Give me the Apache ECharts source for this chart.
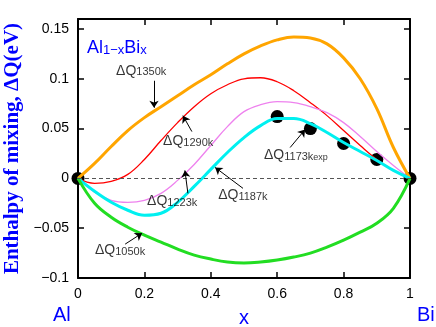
<!DOCTYPE html>
<html><head><meta charset="utf-8">
<script src="https://cdn.jsdelivr.net/npm/echarts@6/dist/echarts.min.js"></script>
<style>html,body{margin:0;padding:0;background:#fff}#c{width:436px;height:327px}</style>
</head><body><div id="c"></div>
<script>
const xTicks = [0, 0.2, 0.4, 0.6, 0.8, 1];
const yTicks = [-0.1, -0.05, 0, 0.05, 0.1, 0.15];

const q1350 = [[0,0],[0.05,0.015],[0.1,0.032],[0.15,0.048],[0.2,0.061],[0.25,0.072],[0.3,0.083],[0.35,0.094],[0.4,0.104],[0.45,0.115],[0.5,0.125],[0.55,0.133],[0.6,0.139],[0.65,0.142],[0.7,0.141],[0.75,0.135],[0.8,0.121],[0.85,0.100],[0.9,0.070],[0.95,0.031],[1,0]];
const q1290 = [[0,0],[0.05,-0.005],[0.1,-0.003],[0.15,0.004],[0.2,0.019],[0.25,0.038],[0.3,0.056],[0.35,0.072],[0.4,0.085],[0.45,0.094],[0.5,0.100],[0.55,0.101],[0.6,0.097],[0.65,0.088],[0.7,0.076],[0.75,0.063],[0.8,0.048],[0.85,0.033],[0.9,0.019],[0.95,0.008],[1,0]];
const q1223 = [[0,0],[0.05,-0.014],[0.1,-0.022],[0.15,-0.024],[0.2,-0.022],[0.25,-0.015],[0.3,-0.002],[0.35,0.014],[0.4,0.033],[0.45,0.052],[0.5,0.067],[0.55,0.074],[0.6,0.077],[0.65,0.076],[0.7,0.072],[0.75,0.066],[0.8,0.056],[0.85,0.042],[0.9,0.027],[0.95,0.013],[1,0]];
const q1187 = [[0,0],[0.05,-0.013],[0.1,-0.024],[0.15,-0.032],[0.2,-0.037],[0.25,-0.035],[0.3,-0.024],[0.35,-0.008],[0.4,0.009],[0.45,0.026],[0.5,0.041],[0.55,0.053],[0.6,0.060],[0.65,0.060],[0.7,0.055],[0.75,0.046],[0.8,0.036],[0.85,0.027],[0.9,0.018],[0.95,0.008],[1,0]];
const q1050 = [[0,0],[0.05,-0.025],[0.1,-0.039],[0.15,-0.049],[0.2,-0.057],[0.25,-0.064],[0.3,-0.071],[0.35,-0.077],[0.4,-0.081],[0.45,-0.084],[0.5,-0.085],[0.55,-0.084],[0.6,-0.082],[0.65,-0.079],[0.7,-0.075],[0.75,-0.069],[0.8,-0.062],[0.85,-0.054],[0.9,-0.045],[0.95,-0.030],[1,0]];
const exp1173 = [[0,0],[0.6,0.062],[0.7,0.050],[0.8,0.035],[0.9,0.019],[1,0]];

// annotation labels: [x, y, main, subscript, sub-subscript]
const labels = [
  [0.1145, 0.111, 'ΔQ', '1350k', ''],
  [0.256, 0.040, 'ΔQ', '1290k', ''],
  [0.208, -0.020, 'ΔQ', '1223k', ''],
  [0.422, -0.014, 'ΔQ', '1187k', ''],
  [0.560, 0.026, 'ΔQ', '1173k', 'exp'],
  [0.051, -0.069, 'ΔQ', '1050k', '']
];
// arrows: [fromX, fromY, toX, toY]
const arrows = [
  [0.229, 0.098, 0.229, 0.071],
  [0.343, 0.047, 0.316, 0.063],
  [0.331, -0.015, 0.322, 0.008],
  [0.497, -0.010, 0.413, 0.011],
  [0.639, 0.031, 0.684, 0.049],
  [0.142, -0.066, 0.193, -0.055]
];

const chart = echarts.init(document.getElementById('c'), null, {renderer: 'canvas'});
const F = 'Liberation Sans, Arial, sans-serif';
const blue = '#0000ff';
const axisCommon = {
  axisLine: {show: true, onZero: false, lineStyle: {color: '#000', width: 2}},
  axisTick: {show: true, inside: true, length: 6, lineStyle: {color: '#000', width: 1.5}},
  splitLine: {show: false}
};
function fmtY(v) {
  const r = Math.round(v * 100) / 100;
  if (r > 0.155) return '';
  return r < 0 ? '−' + (-r) : String(r);
}
const lineS = (name, data, color, w) => ({
  type: 'line', name, data, smooth: 0.4, showSymbol: false, symbol: 'none',
  lineStyle: {color, width: w}, z: 3, silent: true
});

chart.setOption({
  animation: false,
  title: {
    text: '{a|Al}{b|1−x}{a|Bi}{b|x}', left: 82, top: 24,
    textStyle: {rich: {
      a: {fontSize: 18, color: blue, fontFamily: F, fontWeight: 'normal', lineHeight: 28, verticalAlign: 'bottom'},
      b: {fontSize: 13, color: blue, fontFamily: F, fontWeight: 'normal', lineHeight: 14, verticalAlign: 'bottom'}
    }}
  },
  grid: {left: 78, right: 26, top: 19, bottom: 49, outerBoundsMode: 'none', containLabel: false},
  xAxis: [
    Object.assign({type: 'value', min: 0, max: 1, interval: 0.2, position: 'bottom',
      name: 'x', nameLocation: 'middle', nameGap: 30,
      nameTextStyle: {color: blue, fontSize: 20, fontFamily: F},
      axisLabel: {color: '#000', fontSize: 14, fontFamily: F, margin: 9,
        formatter: v => String(Math.round(v * 10) / 10)}}, axisCommon),
    Object.assign({type: 'value', min: 0, max: 1, interval: 0.2, position: 'top',
      axisLabel: {show: false}}, axisCommon)
  ],
  yAxis: [
    Object.assign({type: 'value', min: -0.1, max: 0.16, interval: 0.05, position: 'left',
      name: 'Enthalpy of mixing, ΔQ(eV)', nameLocation: 'middle', nameGap: 53, nameRotate: 90,
      nameTextStyle: {color: blue, fontSize: 21, fontWeight: 'bold', fontFamily: 'Liberation Serif, Times New Roman, serif'},
      axisLabel: {color: '#000', fontSize: 14, fontFamily: F, margin: 9, showMaxLabel: false, formatter: fmtY}}, axisCommon),
    Object.assign({type: 'value', min: -0.1, max: 0.16, interval: 0.05, position: 'right',
      axisLabel: {show: false}}, axisCommon)
  ],
  graphic: [
    {type: 'text', left: 53, top: 305, style: {text: 'Al', fontSize: 20, fontFamily: F, fill: blue}},
    {type: 'text', left: 417, top: 305, style: {text: 'Bi', fontSize: 20, fontFamily: F, fill: blue}}
  ],
  series: [
    {
      type: 'scatter', name: 'exp', data: exp1173, symbolSize: 13,
      itemStyle: {color: '#000', opacity: 1}, z: 2, silent: true,
      markLine: {
        silent: true, symbol: 'none', animation: false,
        label: {show: false},
        lineStyle: {type: [4, 3], color: '#555', width: 1},
        data: [{yAxis: 0}]
      }
    },
    lineS('1290', q1290, '#ff0000', 1.3),
    lineS('1223', q1223, '#ee82ee', 1.3),
    lineS('1350', q1350, '#ffa500', 3),
    lineS('1187', q1187, '#00f0f0', 3),
    lineS('1050', q1050, '#22dd22', 3),
    {
      type: 'scatter', name: 'labels', symbolSize: 0.1, silent: true, z: 5,
      itemStyle: {color: 'rgba(0,0,0,0)'},
      data: labels.map(l => ({value: [l[0], l[1]], m: l[2], s: l[3], e: l[4]})),
      label: {
        show: true, position: 'right', distance: 0,
        formatter: p => '{m|' + p.data.m + '}{s|' + p.data.s + '}' + (p.data.e ? '{e|' + p.data.e + '}' : ''),
        rich: {
          m: {fontSize: 14, color: '#000', fontFamily: F, lineHeight: 20, verticalAlign: 'bottom'},
          s: {fontSize: 11, color: '#000', fontFamily: F, lineHeight: 11, verticalAlign: 'bottom'},
          e: {fontSize: 9, color: '#000', fontFamily: F, lineHeight: 8, verticalAlign: 'bottom'}
        }
      },
      markLine: {
        silent: true, animation: false, symbol: ['none', 'arrow'], symbolSize: 7,
        label: {show: false},
        lineStyle: {type: 'solid', color: '#000', width: 1},
        data: arrows.map(a => [{coord: [a[0], a[1]]}, {coord: [a[2], a[3]]}])
      }
    }
  ]
});
</script></body></html>
